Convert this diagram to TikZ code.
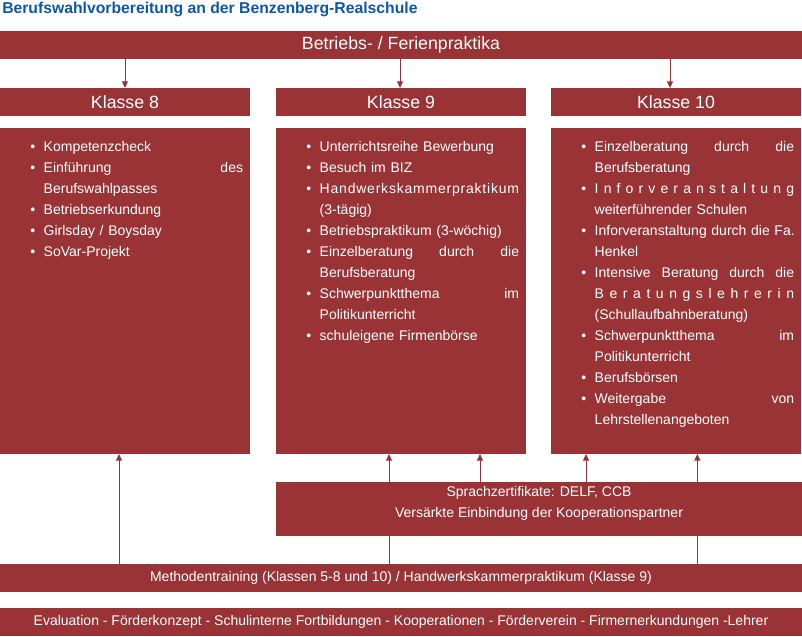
\documentclass[tikz,border=0pt]{standalone}
\usepackage{fontspec}
\setmainfont{Liberation Sans}
\usepackage{xcolor}
\usetikzlibrary{arrows.meta, positioning, backgrounds}

\definecolor{boxred}{HTML}{993336}
\definecolor{titleblue}{HTML}{0E56A6}

%% list helpers
\newcommand\kitem[1]{\noindent\llap{\textbullet\hspace{6.4pt}}#1\par}
\makeatletter
\newcommand\spreadword[1]{%
  \let\sw@sep\relax
  \@tfor\sw@c:=#1\do{\sw@sep\sw@c\let\sw@sep\hfill}}
\makeatother

\begin{document}
\begin{tikzpicture}[
    %% box styles
    bar/.style={fill=boxred, text=white, inner sep=0pt, outer sep=0pt,
        minimum height=21pt},
    kopf/.style={bar, minimum width=187.5pt,
        font=\fontsize{13.3pt}{16pt}\selectfont},
    inhalt/.style={fill=boxred, inner sep=0pt, outer sep=0pt,
        minimum width=187.5pt, minimum height=244.5pt},
    leiste/.style={bar, minimum width=601.5pt,
        font=\fontsize{10.5pt}{15.75pt}\selectfont},
    %% text styles
    liste/.style={text=white, inner sep=0pt, text width=149.5pt,
        anchor=base west, font=\fontsize{10.5pt}{15.75pt}\selectfont},
    %% arrow style
    pfeil/.style={-{Triangle[length=5pt, width=4.5pt]}, draw=boxred,
        line width=0.75pt}
]
    \useasboundingbox (0,0) rectangle (601.5pt,-477pt);

    %% --- title and top bar ------------------------------------
    \node[anchor=base west, inner sep=0pt, text=titleblue,
          font=\fontsize{11.8pt}{14pt}\selectfont\bfseries] (titel)
        at (1.5pt,-9.75pt) {Berufswahlvorbereitung an der Benzenberg-Realschule};

    \node[bar, minimum width=601.5pt, font=\fontsize{13.3pt}{16pt}\selectfont]
        (prak) at (300.75pt,-33.75pt) {Betriebs- / Ferienpraktika};

    %% --- class headers ----------------------------------------
    \node[kopf] (k8) at (93.75pt,-76.5pt) {Klasse 8};
    \node[kopf] (k9) [right=19.5pt of k8] {Klasse 9};
    \node[kopf] (k10) [right=18.75pt of k9] {Klasse 10};

    %% --- class contents ---------------------------------------
    \node[inhalt] (c8) [below=9pt of k8] {};
    \node[inhalt] (c9) [below=9pt of k9] {};
    \node[inhalt] (c10) [below=9pt of k10] {};

    \node[liste] (l8) at ([xshift=32.6pt, yshift=-17.25pt]c8.north west) {%
        \kitem{Kompetenzcheck}%
        \kitem{Einführung \hfill des\\ Berufswahlpasses}%
        \kitem{Betriebserkundung}%
        \kitem{Girlsday / Boysday}%
        \kitem{SoVar-Projekt}%
    };

    \node[liste] (l9) at ([xshift=32.6pt, yshift=-17.25pt]c9.north west) {%
        \kitem{Unterrichtsreihe Bewerbung}%
        \kitem{Besuch im BIZ}%
        \kitem{\spreadword{Handwerkskammerpraktikum}\\ (3-tägig)}%
        \kitem{Betriebspraktikum (3-wöchig)}%
        \kitem{Einzelberatung \hfill durch \hfill die\\ Berufsberatung}%
        \kitem{Schwerpunktthema \hfill im\\ Politikunterricht}%
        \kitem{schuleigene Firmenbörse}%
    };

    \node[liste] (l10) at ([xshift=32.6pt, yshift=-17.25pt]c10.north west) {%
        \kitem{Einzelberatung \hfill durch \hfill die\\ Berufsberatung}%
        \kitem{\spreadword{Inforveranstaltung}\\ weiterführender Schulen}%
        \kitem{\mbox{Inforveranstaltung durch die Fa.}\\ Henkel}%
        \kitem{Intensive \hfill Beratung \hfill durch \hfill die\\
            \spreadword{Beratungslehrerin}\\ (Schullaufbahnberatung)}%
        \kitem{Schwerpunktthema \hfill im\\ Politikunterricht}%
        \kitem{Berufsbörsen}%
        \kitem{Weitergabe \hfill von\\ Lehrstellenangeboten}%
    };

    %% --- lower bars -------------------------------------------
    \node[bar, minimum width=394.5pt, minimum height=40.5pt] (sprach)
        at (404.25pt,-381.75pt) {};
    \node[align=center, text=white, inner sep=0pt,
          font=\fontsize{10.5pt}{15.75pt}\selectfont] (sprachtext)
        at ([yshift=4pt]sprach.center)
        {Sprachzertifikate: DELF, CCB\\ Versärkte Einbindung der Kooperationspartner};

    \node[leiste] (meth) at (300.75pt,-433.5pt)
        {Methodentraining (Klassen 5-8 und 10) / Handwerkskammerpraktikum (Klasse 9)};
    \node[leiste] (eval) [below=12pt of meth]
        {Evaluation - Förderkonzept - Schulinterne Fortbildungen - Kooperationen - Förderverein - Firmernerkundungen -Lehrer};

    %% --- arrows: top bar -> classes ---------------------------
    \draw[pfeil] (k8.north |- prak.south) -- (k8.north);
    \draw[pfeil] ([xshift=-0.75pt]k9.north |- prak.south) -- ([xshift=-0.75pt]k9.north);
    \draw[pfeil] ([xshift=-4.5pt]k10.north |- prak.south) -- ([xshift=-4.5pt]k10.north);

    %% --- arrows: lower bars -> classes ------------------------
    \draw[pfeil] ([xshift=-4.5pt]c8.south |- meth.north) -- ([xshift=-4.5pt]c8.south);
    \draw[pfeil] ([xshift=59.25pt]c9.south |- sprach.north) -- ([xshift=59.25pt]c9.south);
    \draw[pfeil] ([xshift=-67.5pt]c10.south |- sprach.north) -- ([xshift=-67.5pt]c10.south);

    %% methods bar runs behind the language box
    \begin{pgfonlayer}{background}
        \draw[pfeil] ([xshift=-9pt]c9.south |- meth.north) -- ([xshift=-9pt]c9.south);
        \draw[pfeil] ([xshift=16pt]c10.south |- meth.north) -- ([xshift=16pt]c10.south);
    \end{pgfonlayer}

\end{tikzpicture}
\end{document}
